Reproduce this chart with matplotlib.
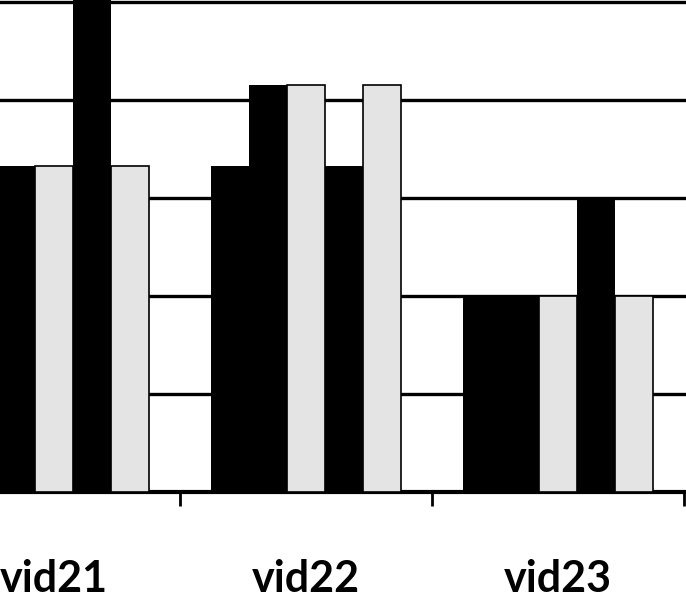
import matplotlib
matplotlib.use("Agg")
from matplotlib import pyplot as plt
import numpy as np

categories = ["vid21", "vid22", "vid23"]
# five series per video, values in grid units (one gridline = 1)
s1 = [3.33, 3.33, 2.0]
s2 = [3.33, 4.15, 2.0]
s3 = [3.33, 4.15, 2.0]
s4 = [5.5, 3.33, 3.0]
s5 = [3.33, 4.15, 2.0]
series = [s1, s2, s3, s4, s5]
colors = ["black", "black", "#e4e4e4", "black", "#e4e4e4"]

fig = plt.figure(figsize=(6.86, 6.0), dpi=100)
ax = fig.add_axes([0, 0.18, 1, 0.82])

x = np.arange(len(categories))
w = 0.151
for i in range(len(series)):
    ec = "black" if colors[i] != "black" else "none"
    ax.bar(x + (i - 2) * w, series[i], w, color=colors[i], edgecolor=ec,
           linewidth=1.2, zorder=3)

ax.set_xlim(-0.2143, 2.508)
ax.set_ylim(0, 5.02)
ax.set_yticks([1, 2, 3, 4, 5])
ax.yaxis.grid(True, color="black", linewidth=2.4, zorder=0)
ax.set_axisbelow(True)
ax.tick_params(axis="y", length=0, labelleft=False)

for sp in ["top", "left", "right"]:
    ax.spines[sp].set_visible(False)
ax.spines["bottom"].set_linewidth(3)

ax.set_xticks(x)
ax.set_xticklabels(categories, fontsize=31, fontfamily="Lato", fontweight="bold")
ax.tick_params(axis="x", which="major", length=0, pad=48)
ax.set_xticks([0.5, 1.5, 2.5], minor=True)
ax.tick_params(axis="x", which="minor", length=10, width=2)

fig.savefig("out.png", dpi=100)
